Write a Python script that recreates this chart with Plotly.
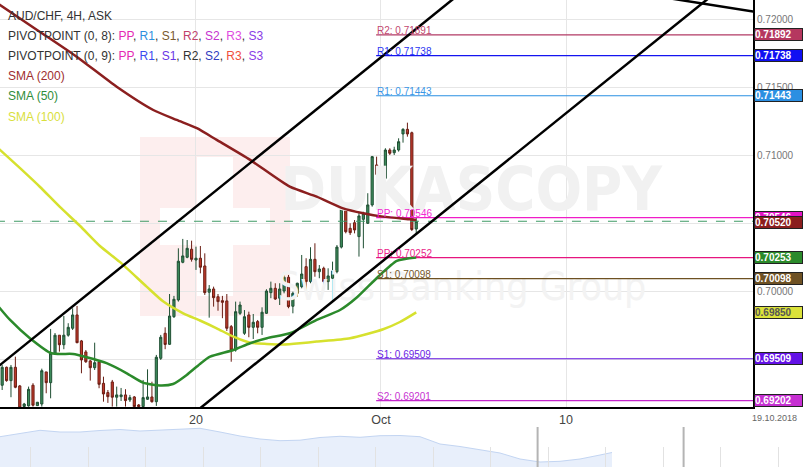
import plotly.graph_objects as go

W, H = 803, 467

# ---------------- candles (4H bars, index 0 = 1 Oct 00:00) ----------------
bar_index = list(range(-86, 9))
open_px = [
    0.69314, 0.69446, 0.69348, 0.69446, 0.69309, 0.69158, 0.69162, 0.69314, 0.69164, 0.69176,
    0.69412, 0.69333, 0.69549, 0.69682, 0.69612, 0.69682, 0.69733, 0.69831, 0.69640, 0.69559,
    0.69493, 0.69443, 0.69485, 0.69328, 0.69260, 0.69338, 0.69226, 0.69230, 0.69243, 0.69206,
    0.69228, 0.69169, 0.69157, 0.69211, 0.69228, 0.69193, 0.69512, 0.69696, 0.69615, 0.69818,
    0.69941, 0.70218, 0.70255, 0.70314, 0.70235, 0.70248, 0.70191, 0.69998, 0.70022, 0.69965,
    0.69936, 0.69934, 0.69745, 0.69573, 0.69843, 0.69696, 0.69831, 0.69740, 0.69782, 0.69740,
    0.69843, 0.69995, 0.70027, 0.69954, 0.70007, 0.70108, 0.69895, 0.69990, 0.70039, 0.70186,
    0.70076, 0.70240, 0.70149, 0.70174, 0.70076, 0.70101, 0.70149, 0.70330, 0.70608, 0.70468,
    0.70509, 0.70407, 0.70534, 0.70505, 0.70640, 0.70934, 0.70877, 0.70836, 0.71044, 0.71024,
    0.71044, 0.71162, 0.71196, 0.71171, 0.70463,
]
high_px = [
    0.69463, 0.69451, 0.69463, 0.69524, 0.69316, 0.69184, 0.69304, 0.69329, 0.69191, 0.69436,
    0.69412, 0.69728, 0.69698, 0.69682, 0.69823, 0.69770, 0.69880, 0.69897, 0.69647, 0.69573,
    0.69500, 0.69627, 0.69500, 0.69377, 0.69279, 0.69353, 0.69304, 0.69294, 0.69285, 0.69243,
    0.69235, 0.69176, 0.69353, 0.69431, 0.69340, 0.69537, 0.69684, 0.69740, 0.69985, 0.69971,
    0.70321, 0.70390, 0.70382, 0.70377, 0.70333, 0.70338, 0.70284, 0.70051, 0.70039, 0.69985,
    0.69971, 0.69985, 0.69757, 0.69929, 0.69929, 0.69867, 0.69855, 0.69838, 0.69794, 0.69887,
    0.70020, 0.70076, 0.70064, 0.70064, 0.70145, 0.70125, 0.70002, 0.70068, 0.70272, 0.70248,
    0.70329, 0.70358, 0.70198, 0.70186, 0.70174, 0.70223, 0.70345, 0.70615, 0.70652, 0.70505,
    0.70529, 0.70590, 0.70590, 0.70726, 0.71000, 0.70995, 0.70909, 0.71057, 0.71057, 0.71068,
    0.71130, 0.71204, 0.71245, 0.71179, 0.70544,
]
low_px = [
    0.69279, 0.69340, 0.69226, 0.69292, 0.69140, 0.69154, 0.69157, 0.69157, 0.69162, 0.69157,
    0.69255, 0.69218, 0.69537, 0.69561, 0.69579, 0.69671, 0.69720, 0.69623, 0.69402, 0.69478,
    0.69348, 0.69426, 0.69292, 0.69193, 0.69184, 0.69157, 0.69157, 0.69198, 0.69157, 0.69191,
    0.69147, 0.69147, 0.69147, 0.69206, 0.69186, 0.69162, 0.69500, 0.69579, 0.69610, 0.69809,
    0.69929, 0.70211, 0.70248, 0.70223, 0.70162, 0.70137, 0.69978, 0.69811, 0.69892, 0.69862,
    0.69807, 0.69713, 0.69487, 0.69561, 0.69831, 0.69684, 0.69667, 0.69654, 0.69696, 0.69684,
    0.69838, 0.69954, 0.69941, 0.69904, 0.69990, 0.69880, 0.69843, 0.69965, 0.70027, 0.70002,
    0.70064, 0.70112, 0.70101, 0.70027, 0.70015, 0.69929, 0.70137, 0.70320, 0.70431, 0.70419,
    0.70431, 0.70260, 0.70321, 0.70500, 0.70627, 0.70824, 0.70762, 0.70726, 0.71007, 0.71007,
    0.71032, 0.71098, 0.71142, 0.70448, 0.70419,
]
close_px = [
    0.69446, 0.69348, 0.69446, 0.69299, 0.69147, 0.69176, 0.69284, 0.69167, 0.69189, 0.69421,
    0.69333, 0.69549, 0.69682, 0.69612, 0.69682, 0.69740, 0.69831, 0.69627, 0.69500, 0.69487,
    0.69443, 0.69480, 0.69321, 0.69250, 0.69230, 0.69226, 0.69243, 0.69243, 0.69201, 0.69223,
    0.69157, 0.69157, 0.69223, 0.69228, 0.69193, 0.69520, 0.69667, 0.69614, 0.69823, 0.69946,
    0.70226, 0.70265, 0.70321, 0.70240, 0.70248, 0.70182, 0.69995, 0.70022, 0.69958, 0.69929,
    0.69924, 0.69733, 0.69573, 0.69855, 0.69904, 0.69818, 0.69740, 0.69777, 0.69740, 0.69851,
    0.70007, 0.70027, 0.69948, 0.70022, 0.70108, 0.69892, 0.69990, 0.70064, 0.70132, 0.70076,
    0.70240, 0.70149, 0.70169, 0.70076, 0.70118, 0.70154, 0.70330, 0.70608, 0.70443, 0.70436,
    0.70456, 0.70559, 0.70578, 0.70640, 0.70995, 0.70865, 0.70836, 0.71044, 0.71020, 0.71044,
    0.71105, 0.71196, 0.71162, 0.70459, 0.70520,
]

# ---------------- moving averages (read at points along the curves) ----------------
sma200_x = [-87, -77.4, -69.1, -60, -51.7, -46.4, -41.8, -37.3, -29.7, -20.7, -14.6, -8.6, -4, 0.5, 6.6, 8]
sma200_y = [0.72121, 0.71912, 0.71730, 0.71509, 0.71338, 0.71265, 0.71204, 0.71118, 0.70971,
            0.70774, 0.70701, 0.70615, 0.70579, 0.70554, 0.70534, 0.70529]
sma50_x = [-87, -84.2, -79.7, -74.8, -69.9, -66.8, -62.3, -57.7, -54, -50.2, -47.2, -44.1, -41.1,
           -38.8, -33.5, -29.7, -25.9, -20.7, -14.6, -9.3, -5.5, -1, 3.6, 8]
sma50_y = [0.69899, 0.69794, 0.69660, 0.69549, 0.69544, 0.69520, 0.69476, 0.69402, 0.69333, 0.69312,
           0.69323, 0.69390, 0.69471, 0.69524, 0.69573, 0.69623, 0.69660, 0.69696, 0.69794, 0.69867,
           0.69959, 0.70101, 0.70228, 0.70253]
sma100_x = [-87, -82, -77.4, -72.9, -68.3, -63.8, -59.3, -53.2, -49.4, -44.9, -41.1, -37.3, -33.5,
            -29.7, -25.9, -22.2, -18.4, -14.6, -7, 0.5, 4.3, 8]
sma100_y = [0.71060, 0.70912, 0.70772, 0.70625, 0.70485, 0.70338, 0.70221, 0.70039, 0.69929, 0.69843,
            0.69790, 0.69733, 0.69671, 0.69627, 0.69618, 0.69614, 0.69623, 0.69635, 0.69660, 0.69726,
            0.69779, 0.69850]

# ---------------- pivot points ----------------
pivot_labels = ["R2", "R1", "R1", "PP", "PP", "S1", "S1", "S2"]
pivot_levels = [0.71891, 0.71738, 0.71443, 0.70546, 0.70252, 0.70098, 0.69509, 0.69201]
pivot_line_colors = ["#b23a64", "#1414f0", "#2a8fe2", "#f01cc8", "#e6157f", "#6e5122", "#6515e0", "#c426cc"]
pivot_text_colors = ["#c2486f", "#2a36f2", "#3a96e6", "#f22ad2", "#ea2489", "#75582a", "#6a24e4", "#c834d2"]
pivot_start = -1.1
pivot_end = 90

# ---------------- price tags on the right axis ----------------
tag_values = [0.71892, 0.71738, 0.71443, 0.70546, 0.70520, 0.70253, 0.70098, 0.69850, 0.69509, 0.69202]
tag_colors = ["#b5375f", "#1010f2", "#2b8fe2", "#e414c8", "#8b1e1e", "#2b8a2b", "#6e5124", "#dbe23a",
              "#6312e6", "#c62fd2"]
tag_text_colors = ["white"] * 7 + ["#555555"] + ["white"] * 2
tag_shift = [0, 0, 0, 0, -1.5, 0, 0, 0, 0, 0]

current_price = 0.70520

# ---------------- trend channel ----------------
channel_upper_x = [-90, 20]
channel_upper_y = [0.69371, 0.72249]
channel_lower_x = [-45, 80]
channel_lower_y = [0.69042, 0.72307]
cross_line_x = [60, 90]
cross_line_y = [0.72188, 0.72033]

# ---------------- axes ----------------
x_tick_pos = [-42, 0, 42]
x_tick_text = ["20", "Oct", "10"]
end_date_label = "19.10.2018"
x_range = [-86.49, 84.45]
y_range = [0.69154, 0.72147]

# ---------------- navigator (overview) ----------------
nav_x = list(range(31)) + [30.6]
nav_vals = [0.7303, 0.7332, 0.7367, 0.7350, 0.7350, 0.7365, 0.7375, 0.7360, 0.7367, 0.7380,
            0.7387, 0.7350, 0.7310, 0.7280, 0.7263, 0.7268, 0.7295, 0.7307, 0.7297, 0.7313,
            0.7315, 0.7303, 0.7230, 0.7205, 0.7172, 0.7140, 0.7080, 0.7050, 0.7057, 0.7080,
            0.7120, 0.7145]

# ---------------- legend rows ----------------
pp_names = ["PP", "R1", "S1", "R2", "S2", "R3", "S3"]
pp8_colors = ["#e42bb4", "#2e8fe0", "#7a5a2e", "#c0406a", "#c533d0", "#e04ce0", "#8a3ce6"]
pp9_colors = ["#e42bb4", "#3a4cf0", "#6a35e6", "#333333", "#2f3cc0", "#f0503c", "#8a3ce6"]

# ============================================================
plot_right = 753
plot_bottom = 407
nav_top = 427

fig = go.Figure()

# watermark text (below the candles)
fig.add_trace(go.Scatter(
    x=[20.5], y=[0.70713], mode="text", text=["<b>DUKASCOPY</b>"],
    textfont=dict(family="DejaVu Sans Condensed, Arial", size=61, color="#f1f1f1"),
    hoverinfo="skip", showlegend=False))
fig.add_trace(go.Scatter(
    x=[18.4], y=[0.70015], mode="text", text=["Swiss Banking Group"],
    textfont=dict(family="DejaVu Sans Condensed, Arial", size=39, color="#f3f3f3"),
    hoverinfo="skip", showlegend=False))

# current price dashed line
fig.add_trace(go.Scatter(x=[x_range[0] - 5, pivot_end], y=[current_price, current_price], mode="lines",
                         line=dict(color="#3f9a66", width=1, dash="dash"), hoverinfo="skip", showlegend=False))

# pivot lines
for lvl, col in zip(pivot_levels, pivot_line_colors):
    fig.add_trace(go.Scatter(x=[pivot_start, pivot_end], y=[lvl, lvl], mode="lines",
                             line=dict(color=col, width=1.2), hoverinfo="skip", showlegend=False))

# moving averages
fig.add_trace(go.Scatter(x=sma100_x, y=sma100_y, mode="lines", line=dict(color="#d6e12e", width=2.5, shape="spline", smoothing=0.6),
                         hoverinfo="skip", showlegend=False))
fig.add_trace(go.Scatter(x=sma50_x, y=sma50_y, mode="lines", line=dict(color="#2b8a2b", width=2.5, shape="spline", smoothing=0.6),
                         hoverinfo="skip", showlegend=False))
fig.add_trace(go.Scatter(x=sma200_x, y=sma200_y, mode="lines", line=dict(color="#8b1f1f", width=2.5, shape="spline", smoothing=0.6),
                         hoverinfo="skip", showlegend=False))

# candles
fig.add_trace(go.Candlestick(
    x=bar_index, open=open_px, high=high_px, low=low_px, close=close_px,
    increasing=dict(fillcolor="#3d8c5c", line=dict(color="#1f4f33", width=1)),
    decreasing=dict(fillcolor="#c0392b", line=dict(color="#6b1e14", width=1)),
    whiskerwidth=0, hoverinfo="skip", showlegend=False))

# channel lines
for xs, ys in [(channel_upper_x, channel_upper_y), (channel_lower_x, channel_lower_y), (cross_line_x, cross_line_y)]:
    fig.add_trace(go.Scatter(x=xs, y=ys, mode="lines", line=dict(color="black", width=2.5),
                             hoverinfo="skip", showlegend=False))

# navigator
fig.add_trace(go.Scatter(x=nav_x, y=nav_vals, mode="lines", fill="tozeroy", fillcolor="#e8effb",
                         line=dict(color="#c3d5f2", width=1), xaxis="x2", yaxis="y2",
                         hoverinfo="skip", showlegend=False))
fig.add_trace(go.Scatter(x=[0], y=[0], mode="markers", marker=dict(opacity=0), xaxis="x3", yaxis="y3",
                         hoverinfo="skip", showlegend=False))

annotations = []
# pivot labels
for name, lvl, col in zip(pivot_labels, pivot_levels, pivot_text_colors):
    annotations.append(dict(x=pivot_start, y=lvl, xref="x", yref="y", text=f"{name}: {lvl:.5f}",
                            showarrow=False, xanchor="left", yanchor="bottom", yshift=-3, xshift=-1,
                            font=dict(size=10, color=col)))
# right price tags
for val, bg, tc, sh in zip(tag_values, tag_colors, tag_text_colors, tag_shift):
    annotations.append(dict(x=754 / W, y=val, xref="paper", yref="y", text=f"<b>{val:.5f}</b>",
                            showarrow=False, xanchor="left", yanchor="middle", yshift=sh,
                            bgcolor=bg, bordercolor="#222222", borderwidth=1, borderpad=0,
                            width=47, height=11, align="left", font=dict(size=10, color=tc)))
annotations.append(dict(x=799 / W, y=1 - 418 / H, xref="paper", yref="paper", text=end_date_label,
                        showarrow=False, xanchor="right", yanchor="middle", font=dict(size=9, color="#666666")))

# legend rows
def colored(names, cols):
    return ", ".join(f'<span style="color:{c}">{n}</span>' for n, c in zip(names, cols))

legend_rows = [
    ("AUD/CHF, 4H, ASK", "#333333"),
    ("PIVOTPOINT (0, 8): " + colored(pp_names, pp8_colors), "#333333"),
    ("PIVOTPOINT (0, 9): " + colored(pp_names, pp9_colors), "#333333"),
    ("SMA (200)", "#9e2e2e"),
    ("SMA (50)", "#2f8d3a"),
    ("SMA (100)", "#d9e03c"),
]
for i, (txt, col) in enumerate(legend_rows):
    annotations.append(dict(x=6 / W, y=1 - (15.5 + 20.2 * i) / H, xref="paper", yref="paper", text=txt,
                            showarrow=False, xanchor="left", yanchor="middle", font=dict(size=12, color=col)))


def px_rect(x0, x1, y0, y1, color):
    return dict(type="rect", xref="paper", yref="paper", x0=x0 / W, x1=x1 / W, y0=1 - y1 / H, y1=1 - y0 / H,
                fillcolor=color, line=dict(width=0), layer="below")


shapes = [
    # watermark logo: pale square with a white cross
    px_rect(140, 290, 137, 316, "#fdeeee"),
    px_rect(197, 233, 157, 296, "#ffffff"),
    px_rect(160, 270, 208, 245, "#ffffff"),
    # navigator window handles
    dict(type="line", xref="paper", yref="paper", x0=537.6 / W, x1=537.6 / W, y0=0, y1=(H - nav_top) / H,
         line=dict(color="#b4b4b4", width=2)),
    dict(type="line", xref="paper", yref="paper", x0=683.6 / W, x1=683.6 / W, y0=0, y1=(H - nav_top) / H,
         line=dict(color="#b4b4b4", width=2)),
]

fig.update_layout(
    width=W, height=H, margin=dict(l=0, r=0, t=0, b=0),
    paper_bgcolor="white", plot_bgcolor="rgba(0,0,0,0)", showlegend=False, boxgap=0.3,
    font=dict(family="Arial, Liberation Sans, sans-serif"),
    xaxis=dict(domain=[0, plot_right / W], range=x_range, anchor="y", tickvals=x_tick_pos, ticktext=x_tick_text,
               showgrid=True, gridcolor="#e6e6e6", gridwidth=1, zeroline=False, showline=True,
               linecolor="black", linewidth=2, ticks="", tickfont=dict(size=12.5, color="#444444"),
               rangeslider=dict(visible=False), fixedrange=True),
    yaxis=dict(domain=[1 - plot_bottom / H, 1], range=y_range, anchor="x", side="right",
               tick0=0.70, dtick=0.005, tickformat=".5f", showgrid=True, gridcolor="#e6e6e6", gridwidth=1,
               zeroline=False, showline=True, linecolor="black", linewidth=2, ticks="",
               tickfont=dict(size=10, color="#777777")),
    xaxis2=dict(domain=[0, 1], range=[0, W / 20], anchor="y2", visible=False),
    yaxis2=dict(domain=[0, (H - nav_top) / H], range=[0.70, 0.74], anchor="x2", visible=False),
    xaxis3=dict(domain=[0, 1], range=[0, W], anchor="y3", showgrid=True, gridcolor="#e2e2e2",
                tick0=30.7, dtick=57.5, showticklabels=False, zeroline=False, ticks=""),
    yaxis3=dict(domain=[0, 20 / H], range=[0, 1], anchor="x3", showgrid=False, showticklabels=False,
                zeroline=False, ticks=""),
    annotations=annotations,
    shapes=shapes,
)

fig.write_html("out.html", config=dict(displayModeBar=False),
               post_script="document.body.style.margin='0px';document.body.style.padding='0px';"
                           "document.body.style.overflow='hidden';")
